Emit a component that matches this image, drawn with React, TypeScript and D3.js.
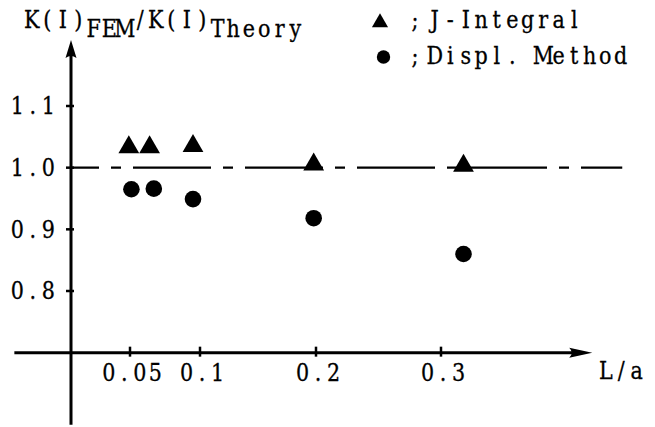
import { useEffect, useRef } from 'react';
import * as d3 from 'd3';

// tick values and labels as printed on the original figure
const xTickValues = [0.05, 0.1, 0.2, 0.3];
const xTickLabels = ['0.05', '0.1', '0.2', '0.3'];
const yTickValues = [0.8, 0.9, 1.0, 1.1];
const yTickLabels = ['0.8', '0.9', '1.0', '1.1'];

// J-Integral (triangles)
const jIntegralX = [0.049, 0.064, 0.095, 0.198, 0.318];
const jIntegralY = [1.033, 1.033, 1.035, 1.005, 1.003];

// Displacement method (circles)
const displX = [0.051, 0.067, 0.095, 0.198, 0.318];
const displY = [0.965, 0.966, 0.949, 0.918, 0.86];

const seriesNames = ['J-Integral', 'Displ. Method'];

// typewriter look: serif glyphs placed on a fixed character grid
const CELL = 15.5;
const SQUEEZE = 0.88;

function typeText(parent: any, str: string, x0: number, y: number, anchor = 'start') {
    const w = str.length * CELL;
    let start = x0;
    if (anchor === 'middle') start = x0 - w / 2;
    if (anchor === 'end') start = x0 - w;
    const xs = str.split('').map((_, i) => (start + (i + 0.5) * CELL) / SQUEEZE);
    return parent.append('text')
        .attr('transform', `scale(${SQUEEZE},1)`)
        .attr('x', xs.join(' '))
        .attr('y', y)
        .attr('text-anchor', 'middle')
        .style('font-family', '"DejaVu Serif", serif')
        .style('font-size', '23.5px')
        .attr('fill', '#000')
        .attr('stroke', '#000')
        .attr('stroke-width', 0.3)
        .text(str);
}

export default function App() {
    const svgRef = useRef<SVGSVGElement>(null);

    useEffect(() => {
        const width = 655;
        const height = 427;

        const svg = d3.select(svgRef.current);
        svg.selectAll('*').remove();
        svg.attr('width', width).attr('height', height);

        // the hand drawn axis is not evenly spaced, so map it piecewise
        const x = d3.scaleLinear()
            .domain([0, 0.05, 0.1, 0.2, 0.3])
            .range([71, 130, 200, 316, 441]);
        const y = d3.scaleLinear()
            .domain([0.8, 1.1])
            .range([291, 106]);

        const xAxisY = y(0.7);
        const yAxisX = x(0);

        // reference line K/K = 1.0 (dash-dot)
        svg.append('line')
            .attr('x1', yAxisX)
            .attr('x2', x(0.445))
            .attr('y1', y(1.0))
            .attr('y2', y(1.0))
            .attr('stroke', '#000')
            .attr('stroke-width', 2.3)
            .attr('stroke-dasharray', '78,12,10,12')
            .attr('stroke-dashoffset', 50);

        // y axis
        const yTop = y(1.207);
        svg.append('line')
            .attr('x1', yAxisX).attr('x2', yAxisX)
            .attr('y1', y(0.583)).attr('y2', yTop + 12)
            .attr('stroke', '#000')
            .attr('stroke-width', 3);
        svg.append('path')
            .attr('d', `M${yAxisX},${yTop} L${yAxisX - 5.5},${yTop + 18} Q${yAxisX},${yTop + 14} ${yAxisX + 5.5},${yTop + 18} Z`)
            .attr('fill', '#000');

        // x axis
        const xEnd = x(0.421);
        svg.append('line')
            .attr('x1', x(-0.048)).attr('x2', xEnd - 12)
            .attr('y1', xAxisY).attr('y2', xAxisY)
            .attr('stroke', '#000')
            .attr('stroke-width', 3);
        svg.append('path')
            .attr('d', `M${xEnd},${xAxisY} L${xEnd - 23},${xAxisY - 5} Q${xEnd - 18},${xAxisY} ${xEnd - 23},${xAxisY + 5} Z`)
            .attr('fill', '#000');

        // y ticks + labels
        yTickValues.forEach((v, i) => {
            svg.append('line')
                .attr('x1', yAxisX - 5).attr('x2', yAxisX + 3)
                .attr('y1', y(v)).attr('y2', y(v))
                .attr('stroke', '#000')
                .attr('stroke-width', 2.5);
            typeText(svg, yTickLabels[i], 56, y(v) + 8.5, 'end');
        });

        // x ticks + labels
        xTickValues.forEach((v, i) => {
            svg.append('line')
                .attr('x1', x(v)).attr('x2', x(v))
                .attr('y1', xAxisY - 6).attr('y2', xAxisY + 4)
                .attr('stroke', '#000')
                .attr('stroke-width', 2.5);
            typeText(svg, xTickLabels[i], x(v) + 2, xAxisY + 28, 'middle');
        });

        // axis titles
        typeText(svg, 'L/a', 598, xAxisY + 26);

        typeText(svg, 'K(I)', 24, 28);
        typeText(svg, 'FEM', 24 + 4 * CELL, 37);
        typeText(svg, '/K(I)', 24 + 7 * CELL, 28);
        typeText(svg, 'Theory', 24 + 12 * CELL, 37);

        // data markers
        const triangle = d3.symbol().type(d3.symbolTriangle).size(187);
        svg.append('g')
            .selectAll('path')
            .data(d3.range(jIntegralX.length))
            .enter()
            .append('path')
            .attr('d', triangle)
            .attr('transform', (i) => `translate(${x(jIntegralX[i])},${y(jIntegralY[i])})`)
            .attr('fill', '#000');

        svg.append('g')
            .selectAll('circle')
            .data(d3.range(displX.length))
            .enter()
            .append('circle')
            .attr('cx', (i) => x(displX[i]))
            .attr('cy', (i) => y(displY[i]))
            .attr('r', 8.3)
            .attr('fill', '#000');

        // legend
        const legend = svg.append('g');
        legend.append('path')
            .attr('d', d3.symbol().type(d3.symbolTriangle).size(113))
            .attr('transform', 'translate(380,22.5)')
            .attr('fill', '#000');
        legend.append('circle')
            .attr('cx', 383.5)
            .attr('cy', 57)
            .attr('r', 6.7)
            .attr('fill', '#000');
        seriesNames.forEach((name, i) => {
            typeText(legend, ';', 415, 28 + i * 36, 'middle');
            typeText(legend, name, 427, 28 + i * 36);
        });
    }, []);

    return (
        <svg
            ref={svgRef}
            style={{ position: 'absolute', left: 0, top: 0, display: 'block', background: '#fff' }}
        ></svg>
    );
}
